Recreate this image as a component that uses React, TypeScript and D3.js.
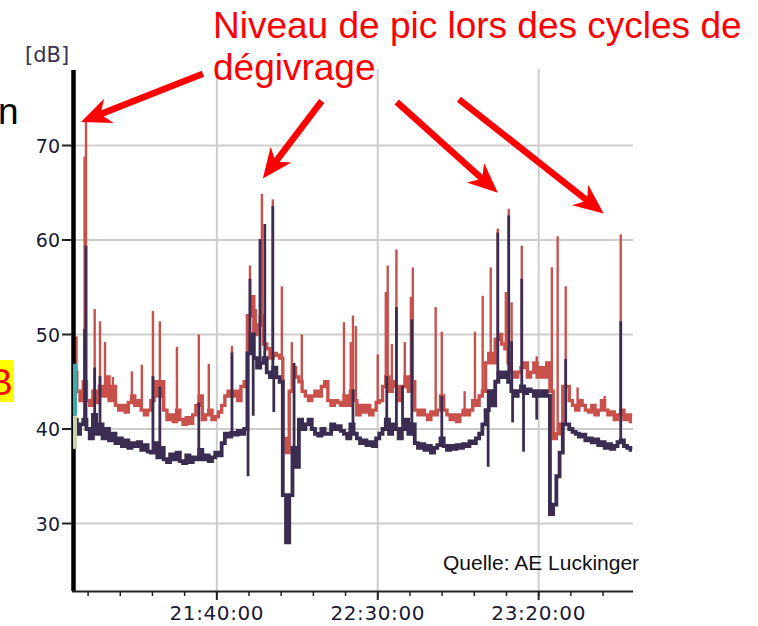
import React from "react";
import * as d3 from "d3";

// ---- data (minute index from 20:55, one value per minute) ----
const redLevel: number[] = [
  45, 46, 44, 43, 45, 43, 42.5, 44, 42.8, 44.5,
  43.5, 45.5, 43, 44.5, 42.5, 42, 42.5, 41.8, 42.8, 43.5,
  42.5, 43, 42, 41.5, 42, 43, 45, 43.5, 45, 42,
  41, 41.5, 40.8, 42, 41, 40.5, 41.2, 40.6, 41.5, 42.5,
  43.5, 41, 41.5, 42, 41, 41.3, 41.8, 42.5, 43.5, 44,
  43.5, 44, 43, 44.5, 45, 52, 54, 50, 51, 52,
  49, 48.5, 47.5, 48, 47.8, 47.5, 39, 37.5, 44, 46.5,
  45.5, 45, 44, 43.5, 43, 43.5, 44, 43.5, 44.5, 45,
  43, 42.5, 43, 42.8, 42.5, 43.5, 42.5, 44, 43, 41.5,
  42.5, 41.8, 42.5, 41.5, 42, 42.8, 43, 44.5, 45.5, 44,
  45, 44.5, 43, 44.5, 45.5, 44, 45, 42, 41.5, 42,
  41.5, 41, 41.8, 41.5, 42, 43.5, 42, 41.5, 41, 41.5,
  40.8, 41.5, 42, 41.5, 42, 43, 42.5, 43.5, 44, 47,
  48, 47, 49.5, 50, 49, 48.5, 47, 46, 45.5, 46,
  46.5, 47, 45.5, 46, 47, 45.5, 46.5, 45.5, 47, 44,
  39, 39.5, 40.5, 44.5, 44.5, 43, 42.5, 42, 43, 42.5,
  42, 41.8, 42.5, 41.5, 42, 43, 42, 41.5, 41.8, 41,
  41.5, 42, 41, 41.5, 40.8,
];

const darkLevel: number[] = [
  40.5, 41, 39.5, 40.5, 41, 40, 39, 41.5, 39.5, 40.5,
  39, 40, 38.8, 39.5, 38.5, 39, 38.2, 38.8, 38, 38.5,
  38.2, 38.6, 37.8, 38.3, 37.6, 37.5, 38.5, 37, 38, 36.8,
  36.5, 37.3, 36.8, 37.5, 36.6, 36.4, 37.2, 36.5, 37, 36.8,
  37.8, 36.8, 37.2, 36.6, 37, 37.5, 37.2, 38.5, 39.5, 39.2,
  39.6, 39.4, 39.8, 39.5, 40, 48, 50, 47.5, 46.5, 47,
  47.5, 46, 45.5, 46.5, 45.5, 45, 33, 28, 33, 38,
  36, 41, 40, 40.5, 41, 40, 39.5, 39.3, 40, 39.5,
  39.5, 40.5, 40, 40.3, 39.8, 39.5, 39, 40.5, 39.5, 39,
  38.5, 38.8, 38.3, 38.6, 38.2, 39, 39.5, 40, 41, 39.5,
  40.5, 40, 39, 40, 41, 39.5, 40.5, 38.5, 38, 38.4,
  37.8, 38.2, 37.5, 38, 38.3, 39, 38.2, 37.8, 38.2, 37.9,
  38.3, 38, 38.4, 38.2, 38.7, 38.5, 39, 39.5, 40.5, 42,
  44, 42.5, 45, 46, 45.5, 46, 45, 44, 43.5, 44,
  44.5, 43.8, 44.2, 44, 43.5, 44, 43.5, 44, 43.5, 31,
  32, 35, 37.5, 40.5, 40.5, 40, 39.7, 39.5, 39.2, 39.4,
  38.8, 39, 38.6, 38.9, 38.3, 38.6, 38, 38.4, 37.9, 38.2,
  38.6, 38.8, 38.2, 38, 37.8,
];

// short spikes: [minute since 20:55, dB]
const redSpikes: [number, number][] = [
  [1.4, 49.8], [3.9, 68.8], [4.35, 72.5], [7.05, 52.7], [8.7, 51.4],
  [10.25, 49.2], [12.7, 45.5], [18.6, 46.1], [21.7, 46.8], [25.15, 52.5],
  [27.3, 51.4], [32.6, 48.7], [39.4, 50], [42.5, 46.9], [49.7, 48.8],
  [55.3, 57.3], [57.1, 52.7], [59, 64.9], [62.4, 64.3], [65.2, 55.1],
  [68.3, 49.2], [71.4, 50], [84.5, 51.3], [86.6, 49.2], [87.3, 52],
  [88.2, 50.9], [95, 47.9], [97.5, 54.5], [98.1, 57.3], [99.4, 49],
  [100.8, 59], [103.4, 49.2], [105.3, 54], [105.9, 57.1], [113, 52.9],
  [114.9, 50.3], [122, 44], [125.2, 50.3], [127.6, 54.1], [130.1, 57.1],
  [132.3, 61.2], [134.8, 54.5], [135.7, 63.3], [136.6, 53.4], [139.75, 59.4],
  [144.4, 47.7], [149.1, 57.1], [150.9, 60.4], [153.4, 55.1], [157.1, 44.4],
  [165.5, 43.5], [170.5, 60.6],
];

const darkSpikes: [number, number][] = [
  [3.9, 50.6], [4.35, 59.4], [7.05, 46.5], [8.7, 45.6], [25.15, 45.6],
  [27.3, 44.5], [39.4, 42.8], [49.7, 48.1], [54.7, 35], [55.3, 55.9],
  [56.3, 41.4], [58.4, 60.1], [59.9, 61.7], [62.4, 63.6], [62.7, 41.8],
  [69, 47], [87.3, 44.2], [97.8, 45.6], [100.8, 52.9], [102.7, 44.6],
  [105.6, 51.6], [114.9, 43.5], [129.3, 36], [132.3, 60.8], [135.7, 62.6],
  [136.6, 49.3], [136.9, 40.7], [139.75, 55.9], [140.3, 37.6], [144.4, 41],
  [153.4, 47.4], [170.5, 51.4],
];

const yTicks: number[] = [30, 40, 50, 60, 70];
const xLabelTicks: string[] = ["21:40:00", "22:30:00", "23:20:00"];

// annotation arrows: [tail minute, tail dB, tip minute, tip dB]
const arrows: [number, number, number, number][] = [
  [40.7, 77.6, 2.8, 72.5],
  [77.6, 74.7, 59.3, 66.5],
  [100.9, 74.6, 132.3, 65],
  [120.2, 74.9, 165.2, 62.8],
];

const titleLines: string[] = ["Niveau de pic lors des cycles de", "dégivrage"];
const sourceText = "Quelle: AE Luckinger";

// ---- layout ----
const W = 758;
const H = 626;
const base = new Date(2020, 0, 1, 20, 55, 0);
const end = new Date(2020, 0, 1, 23, 49, 0);
const at = (m: number) => new Date(base.getTime() + m * 60000);
const parseHMS = (s: string) => {
  const [h, mi, se] = s.split(":").map(Number);
  return new Date(2020, 0, 1, h, mi, se);
};

const x = d3.scaleTime().domain([base, end]).range([72, 632]);
const y = d3.scaleLinear().domain([30, 70]).range([523.5, 145.5]);

const plotTop = 69;
const plotBottom = 592;
const plotLeft = 73;
const plotRight = 633;

const RED = "#c9514c";
const DARK = "#3b2d52";

function Arrow({ a }: { a: [number, number, number, number] }) {
  const x0 = x(at(a[0]));
  const y0 = y(a[1]);
  const x1 = x(at(a[2]));
  const y1 = y(a[3]);
  const dx = x1 - x0;
  const dy = y1 - y0;
  const len = Math.hypot(dx, dy);
  const ux = dx / len;
  const uy = dy / len;
  const nx = -uy;
  const ny = ux;
  const L = 30;
  const hw = 13;
  const notch = 9;
  const pts = [
    [x1, y1],
    [x1 - ux * L + nx * hw, y1 - uy * L + ny * hw],
    [x1 - ux * (L - notch), y1 - uy * (L - notch)],
    [x1 - ux * L - nx * hw, y1 - uy * L - ny * hw],
  ];
  const sx = x1 - ux * (L - notch - 2);
  const sy = y1 - uy * (L - notch - 2);
  return (
    <g>
      <line x1={x0} y1={y0} x2={sx} y2={sy} stroke="#ff0000" strokeWidth={6.5} />
      <polygon points={pts.map((p) => p.join(",")).join(" ")} fill="#ff0000" />
    </g>
  );
}

export default function App() {
  const lineGen = d3
    .line<number>()
    .x((_, i) => x(at(i)))
    .y((d) => y(d))
    .curve(d3.curveStep);

  const minorTicks = d3.timeMinute.every(10)!.range(at(1), end);

  return (
    <svg
      width={W}
      height={H}
      style={{ position: "absolute", left: 0, top: 0, background: "#fff" }}
    >
      {/* gridlines */}
      {yTicks.map((v) => (
        <line key={"gy" + v} x1={plotLeft} x2={plotRight} y1={y(v)} y2={y(v)} stroke="#cdcdcd" strokeWidth={2} />
      ))}
      {xLabelTicks.map((s) => (
        <line key={"gx" + s} x1={x(parseHMS(s))} x2={x(parseHMS(s))} y1={plotTop} y2={plotBottom} stroke="#cdcdcd" strokeWidth={2} />
      ))}

      {/* red series */}
      <path d={lineGen(redLevel) || ""} fill="none" stroke={RED} strokeWidth={3.4} />
      {redSpikes.map(([m, v], i) => (
        <line key={"rs" + i} x1={x(at(m))} x2={x(at(m))} y1={y(redLevel[Math.round(m)])} y2={y(v)} stroke={RED} strokeWidth={2.4} />
      ))}

      {/* dark series */}
      <path d={lineGen(darkLevel) || ""} fill="none" stroke={DARK} strokeWidth={3.8} />
      {darkSpikes.map(([m, v], i) => (
        <line key={"ds" + i} x1={x(at(m))} x2={x(at(m))} y1={y(darkLevel[Math.round(m)])} y2={y(v)} stroke={DARK} strokeWidth={2.8} />
      ))}

      {/* axes */}
      <line x1={73.5} x2={73.5} y1={70} y2={591} stroke="#000" strokeWidth={4.5} />
      <rect x={73} y={y(46.9)} width={4} height={y(41.4) - y(46.9)} fill="#3fa8a8" />
      <rect x={73} y={y(41.4)} width={4} height={y(37.9) - y(41.4)} fill="#c9d2ae" />
      <line x1={72} x2={plotRight} y1={591.5} y2={591.5} stroke="#222" strokeWidth={2} />
      {minorTicks.map((d, i) => (
        <line key={"mt" + i} x1={x(d)} x2={x(d)} y1={591} y2={596} stroke="#222" strokeWidth={1.5} />
      ))}
      {xLabelTicks.map((s) => (
        <g key={"xl" + s}>
          <line x1={x(parseHMS(s))} x2={x(parseHMS(s))} y1={591} y2={600} stroke="#222" strokeWidth={2} />
          <text
            x={x(parseHMS(s))}
            y={620}
            textAnchor="middle"
            fontFamily="DejaVu Sans, Verdana, sans-serif"
            fontSize={20}
            letterSpacing={0.6}
            fill="#1a1a34"
          >
            {s}
          </text>
        </g>
      ))}
      {yTicks.map((v) => (
        <g key={"yl" + v}>
          <line x1={62} x2={72} y1={y(v)} y2={y(v)} stroke="#222" strokeWidth={2} />
          <text
            x={60}
            y={y(v) + 7}
            textAnchor="end"
            fontFamily="DejaVu Sans, Verdana, sans-serif"
            fontSize={19}
            fill="#1a1a34"
          >
            {v}
          </text>
        </g>
      ))}
      <text x={25} y={62} fontFamily="DejaVu Sans, Verdana, sans-serif" fontSize={21} fill="#3a3050">
        [dB]
      </text>

      {/* source */}
      <text x={443} y={570} fontFamily="Liberation Sans, Arial, sans-serif" fontSize={21} fill="#111">
        {sourceText}
      </text>

      {/* cut-off slide fragments */}
      <text x={-2} y={124} fontFamily="Liberation Sans, Arial, sans-serif" fontSize={37} fill="#000">
        n
      </text>
      <rect x={0} y={360} width={14} height={42} fill="#ffff00" />
      <text x={-12} y={395} fontFamily="Liberation Sans, Arial, sans-serif" fontSize={37} fill="#ff0000">
        B
      </text>

      {/* title annotation */}
      <text x={213} y={38} fontFamily="Liberation Sans, Arial, sans-serif" fontSize={37} fill="#ff0000">
        {titleLines[0]}
      </text>
      <text x={213} y={80} fontFamily="Liberation Sans, Arial, sans-serif" fontSize={37} fill="#ff0000">
        {titleLines[1]}
      </text>
      {arrows.map((a, i) => (
        <Arrow key={"ar" + i} a={a} />
      ))}
    </svg>
  );
}
